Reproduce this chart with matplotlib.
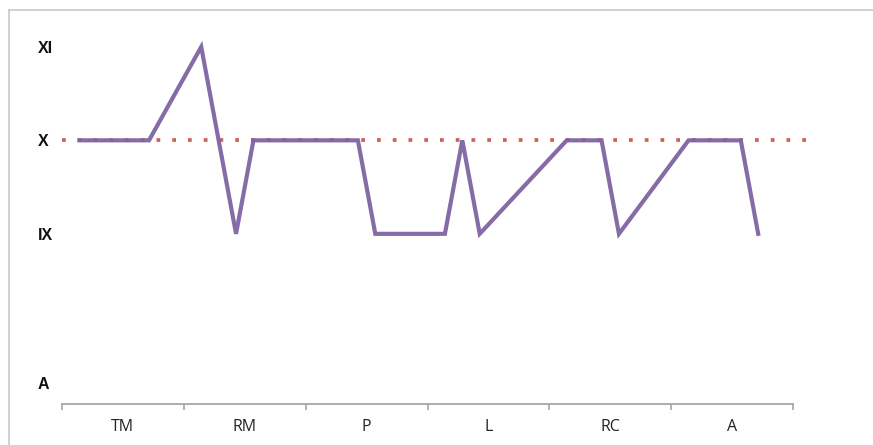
import matplotlib
matplotlib.use("Agg")
import matplotlib.pyplot as plt
from matplotlib.lines import Line2D

# Data
categories = ["TM", "RM", "P", "L", "RC", "A"]
points_per_category = 7
ytick_values = [11, 10, 9, 7.4]
ytick_labels = ["XI", "X", "IX", "A"]
x_vals = [1, 5, 8, 10, 11, 17, 18, 22, 23, 24, 29, 31, 32, 36, 39, 40]
y_vals = [10, 10, 11, 9, 10, 10, 9, 9, 10, 9, 10, 10, 9, 10, 10, 9]
reference_level = 10
reference_span = [0, 43.3]

W, H = 873, 445
fig = plt.figure(figsize=(W / 100, H / 100), dpi=100)

# light frame (top and left)
fig.add_artist(Line2D([9 / W, 9 / W], [0, 1 - 10 / H], transform=fig.transFigure,
                      color="#c8c8c8", lw=1.2))
fig.add_artist(Line2D([9 / W, 1], [1 - 10 / H, 1 - 10 / H], transform=fig.transFigure,
                      color="#c8c8c8", lw=1.2))

n_total = points_per_category * len(categories)
xmax = 44
px_per_unit = (793 - 62) / n_total
ax_w = xmax * px_per_unit
ylo, yhi = 7.18, 11.3
ax_h = (yhi - ylo) * 93.5
ax = fig.add_axes([62 / W, (H - 404) / H, ax_w / W, ax_h / H])
ax.set_xlim(0, xmax)
ax.set_ylim(ylo, yhi)

ax.plot(reference_span, [reference_level] * 2, color="#c9504a",
        lw=2.7, linestyle=(0, (1.0, 3.2)), zorder=2, solid_capstyle="butt",
        alpha=0.9)
ax.plot(x_vals, y_vals, color="#8064a2", lw=3.0, zorder=3,
        solid_joinstyle="miter", alpha=0.95)

for s in ["top", "right", "left"]:
    ax.spines[s].set_visible(False)
ax.spines["bottom"].set_bounds(0, n_total)
ax.spines["bottom"].set_color("#a6a6a6")
ax.spines["bottom"].set_linewidth(1.3)

ax.set_xticks([i * points_per_category for i in range(len(categories) + 1)])
ax.set_xticklabels([])
ax.tick_params(axis="x", which="major", length=4, width=1.2, color="#a6a6a6",
               direction="out")
ax.set_xticks([(i + 0.5) * points_per_category for i in range(len(categories))],
              minor=True)
ax.set_xticklabels(categories, minor=True, fontsize=11.5, family="Open Sans",
                   color="#222222")
ax.tick_params(axis="x", which="minor", length=0, pad=11)

ax.set_yticks(ytick_values)
ax.set_yticklabels(ytick_labels, fontsize=11.5, fontweight="bold",
                   family="Liberation Sans", color="#111111")
ax.tick_params(axis="y", length=0, pad=0)
for lbl in ax.get_yticklabels():
    lbl.set_horizontalalignment("left")
    lbl.set_x(-24 / ax_w)

fig.savefig("out.png", dpi=100)
